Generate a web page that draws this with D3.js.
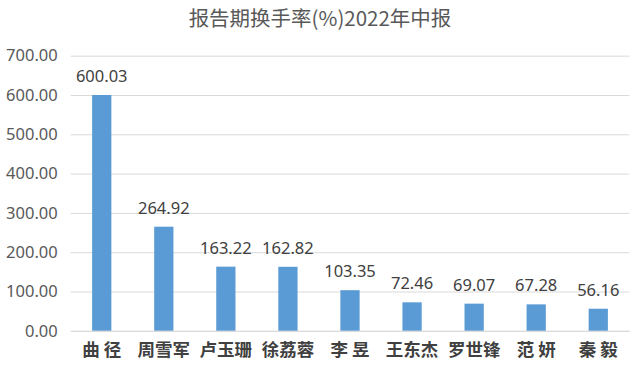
<!DOCTYPE html>
<html>
<head>
<meta charset="utf-8">
<script src="https://cdn.jsdelivr.net/npm/d3@7"></script>
<style>
  body { margin: 0; background: #fff; }
  svg { display: block; }
</style>
</head>
<body>
<div id="chart"></div>
<script>
const names = ["曲 径", "周雪军", "卢玉珊", "徐荔蓉", "李 昱", "王东杰", "罗世锋", "范 妍", "秦 毅"];
const rates = [600.03, 264.92, 163.22, 162.82, 103.35, 72.46, 69.07, 67.28, 56.16];
const yTicks = [0, 100, 200, 300, 400, 500, 600, 700];
const title = "报告期换手率(%)2022年中报";

const width = 640;
const height = 372;
const margin = { top: 55.7, right: 10.7, bottom: 41.2, left: 70.7 };

const svg = d3.select('#chart')
    .append('svg')
    .attr('width', width)
    .attr('height', height);

const x = d3.scaleBand()
    .domain(names)
    .range([margin.left, width - margin.right])
    .paddingInner(0.69)
    .paddingOuter(0.345);

const y = d3.scaleLinear()
    .domain([0, 700])
    .range([height - margin.bottom, margin.top]);

// title
svg.append('text')
    .attr('x', 320)
    .attr('y', 26)
    .attr('text-anchor', 'middle')
    .attr('font-family', '"Noto Sans CJK SC", sans-serif')
    .attr('font-size', 20.5)
    .attr('fill', '#595959')
    .text(title);

// grid + y labels
const yAxis = svg.append('g')
    .attr('transform', `translate(${margin.left},0)`)
    .call(d3.axisLeft(y).tickValues(yTicks).tickSize(-(width - margin.left - margin.right)).tickFormat(d3.format('.2f')).tickPadding(13));
yAxis.select('.domain').remove();
yAxis.selectAll('.tick line').attr('stroke', '#d9d9d9').attr('stroke-width', 1);
yAxis.selectAll('.tick text')
    .attr('font-family', '"Noto Sans", sans-serif')
    .attr('font-size', 16.5)
    .attr('fill', '#595959');

// bars
svg.append('g')
    .attr('fill', '#5b9bd5')
    .selectAll('rect')
    .data(rates)
    .join('rect')
        .attr('x', (d, i) => x(names[i]))
        .attr('y', d => y(d))
        .attr('width', x.bandwidth())
        .attr('height', d => y(0) - y(d));

// value labels
svg.append('g')
    .selectAll('text')
    .data(rates)
    .join('text')
        .attr('x', (d, i) => x(names[i]) + x.bandwidth() / 2)
        .attr('y', d => y(d) - 13)
        .attr('text-anchor', 'middle')
        .attr('font-family', '"Noto Sans", sans-serif')
        .attr('font-size', 16.5)
        .attr('fill', '#404040')
        .text(d => d3.format('.2f')(d));

// category labels
const xAxis = svg.append('g')
    .attr('transform', `translate(0,${y(0)})`)
    .call(d3.axisBottom(x).tickSize(0).tickPadding(13));
xAxis.select('.domain').attr('stroke', '#d9d9d9');
xAxis.selectAll('.tick text')
    .attr('dy', '0.71em')
    .attr('font-family', '"Noto Sans CJK SC", serif')
    .attr('font-weight', 'bold')
    .attr('font-size', 17.5)
    .attr('fill', '#404040')
    .style('white-space', 'pre')
    .attr('xml:space', 'preserve');
</script>
</body>
</html>
